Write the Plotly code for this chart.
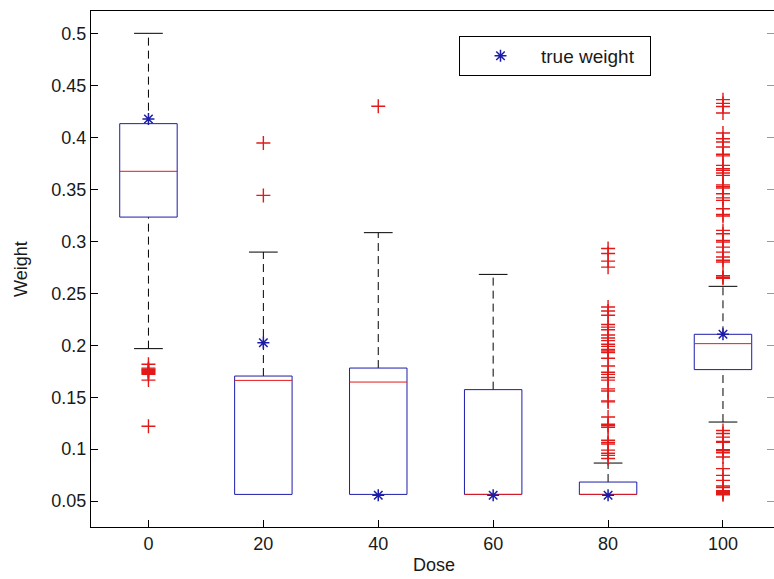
import plotly.graph_objects as go

# ---------------- data ----------------
doses = [0, 20, 40, 60, 80, 100]
q1 = [0.3235, 0.0564, 0.0564, 0.0564, 0.0564, 0.1766]
medians = [0.3676, 0.1662, 0.1646, 0.0564, 0.0564, 0.2016]
q3 = [0.4135, 0.1704, 0.1781, 0.1573, 0.0683, 0.2106]
lower_whisker = [0.1968, 0.0564, 0.0564, 0.0564, 0.0564, 0.1261]
upper_whisker = [0.5005, 0.2898, 0.3085, 0.2683, 0.0866, 0.2568]
true_weight = [0.418, 0.2025, 0.0555, 0.0555, 0.0555, 0.2106]

out_0 = [0.1817, 0.178, 0.177, 0.176, 0.175, 0.174, 0.173, 0.172, 0.1665, 0.122]
out_20 = [0.3948, 0.3444]
out_40 = [0.4302]
out_60 = []
out_80 = [0.2933, 0.2885, 0.2811, 0.2753, 0.2369, 0.2330, 0.2290, 0.2200, 0.2175,
          0.2150, 0.2100, 0.2070, 0.2045, 0.2010, 0.1990, 0.1960, 0.1945, 0.1930,
          0.1875, 0.1800, 0.1740, 0.1720, 0.1690, 0.1665, 0.1580, 0.1560, 0.1465,
          0.1455, 0.1310, 0.1240, 0.1225, 0.1210, 0.1085, 0.1065, 0.1050, 0.0990,
          0.0960, 0.0940, 0.0910]
out_100 = [0.4366, 0.4330, 0.4300, 0.4237, 0.4045, 0.3990, 0.3958, 0.3910, 0.3840,
           0.3825, 0.3733, 0.3700, 0.3685, 0.3660, 0.3637, 0.3545, 0.3530, 0.3515,
           0.3460, 0.3420, 0.3396, 0.3316, 0.3260, 0.3245, 0.3107, 0.3075, 0.3011,
           0.2995, 0.2946, 0.2898, 0.2850, 0.2820, 0.2802, 0.2670, 0.2655, 0.2645,
           0.1180, 0.1150, 0.1116, 0.1075, 0.1065, 0.0995, 0.0985, 0.0965, 0.0924,
           0.0812, 0.0747, 0.0699, 0.0645, 0.0630, 0.0600, 0.0590, 0.0580, 0.0570,
           0.0560]
outliers = [out_0, out_20, out_40, out_60, out_80, out_100]

# ---------------- style ----------------
BOX_W = 0.25      # half width of box
CAP_W = 0.125     # half width of whisker caps
BLUE = "#1c1caa"
RED = "#e31a1a"
FONT = "Arial, Liberation Sans, sans-serif"
FS = 18
TXT = "#1a1a1a"

pos = list(range(1, len(doses) + 1))

fig = go.Figure()

# whiskers (dashed)
wx, wy = [], []
for p, lo, a, b, hi in zip(pos, lower_whisker, q1, q3, upper_whisker):
    wx += [p, p, None, p, p, None]
    wy += [b, hi, None, lo, a, None]
fig.add_trace(go.Scatter(x=wx, y=wy, mode="lines", showlegend=False, hoverinfo="skip",
                         line=dict(color="black", width=1, dash="8px,5px")))
# caps
cx, cy = [], []
for p, lo, a, hi in zip(pos, lower_whisker, q1, upper_whisker):
    cx += [p - CAP_W, p + CAP_W, None]
    cy += [hi, hi, None]
    if lo < a:
        cx += [p - CAP_W, p + CAP_W, None]
        cy += [lo, lo, None]
fig.add_trace(go.Scatter(x=cx, y=cy, mode="lines", showlegend=False, hoverinfo="skip",
                         line=dict(color="black", width=1)))
# boxes
bx, by = [], []
for p, a, b in zip(pos, q1, q3):
    bx += [p - BOX_W, p + BOX_W, p + BOX_W, p - BOX_W, p - BOX_W, None]
    by += [a, a, b, b, a, None]
fig.add_trace(go.Scatter(x=bx, y=by, mode="lines", showlegend=False, hoverinfo="skip",
                         line=dict(color=BLUE, width=1)))
# medians
mx, my = [], []
for p, m in zip(pos, medians):
    mx += [p - BOX_W, p + BOX_W, None]
    my += [m, m, None]
fig.add_trace(go.Scatter(x=mx, y=my, mode="lines", showlegend=False, hoverinfo="skip",
                         line=dict(color=RED, width=1)))
# outliers
ox, oy = [], []
for p, vals in zip(pos, outliers):
    ox += [p] * len(vals)
    oy += vals
fig.add_trace(go.Scatter(x=ox, y=oy, mode="markers", showlegend=False, hoverinfo="skip",
                         marker=dict(symbol="cross-thin-open", size=10, color=RED,
                                     line=dict(color=RED, width=1.4))))
# true weight
fig.add_trace(go.Scatter(x=pos, y=true_weight, mode="markers",
                         name="true weight&nbsp;&nbsp;",
                         marker=dict(symbol="asterisk-open", size=10, color=BLUE,
                                     line=dict(color=BLUE, width=1.5))))
# invisible trace on right axis for mirrored ticks
fig.add_trace(go.Scatter(x=[pos[0]], y=[true_weight[0]], yaxis="y2", mode="markers",
                         marker=dict(opacity=0), showlegend=False, hoverinfo="skip"))

yr = [0.025, 0.522]
yt = [0.05, 0.1, 0.15, 0.2, 0.25, 0.3, 0.35, 0.4, 0.45, 0.5]
fig.update_layout(
    width=774, height=579,
    margin=dict(l=91, r=0, t=11, b=52),
    paper_bgcolor="white", plot_bgcolor="white",
    font=dict(family=FONT, size=FS, color=TXT),
    xaxis=dict(range=[0.5, 6.444], tickmode="array", tickvals=pos,
               ticktext=[str(d) for d in doses], ticks="inside", ticklen=7,
               tickcolor="black", showline=True, linecolor="black", linewidth=1,
               mirror=True, showgrid=False, zeroline=False),
    yaxis=dict(range=yr, tickmode="array", tickvals=yt,
               ticktext=[f"{v:g}" for v in yt],
               ticks="inside", ticklen=7, tickcolor="black", showline=True,
               linecolor="black", linewidth=1, showgrid=False, zeroline=False),
    yaxis2=dict(range=yr, overlaying="y", side="right", tickmode="array",
                tickvals=yt, ticks="inside", ticklen=7, tickcolor="#999",
                showticklabels=False, showline=False, showgrid=False, zeroline=False),
    legend=dict(x=0.5388, y=0.9516, xanchor="left", yanchor="top",
                bgcolor="white", bordercolor="black", borderwidth=1,
                itemwidth=71, font=dict(size=FS + 1, family=FONT, color=TXT)),
    annotations=[
        dict(text="Dose", x=0.502, y=-0.0736, xref="paper", yref="paper",
             xanchor="center", yanchor="middle", showarrow=False,
             font=dict(size=FS, family=FONT, color=TXT)),
        dict(text="Weight", x=-0.1025, y=0.5, xref="paper", yref="paper",
             xanchor="center", yanchor="middle", showarrow=False, textangle=-90,
             font=dict(size=FS, family=FONT, color=TXT)),
    ],
)

fig.write_html("out.html")
